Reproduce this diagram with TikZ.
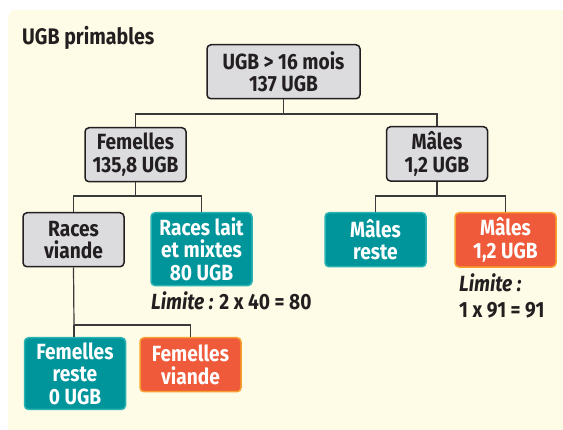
\documentclass[tikz,border=0pt]{standalone}
\usepackage{fontspec}
\setmainfont{Fira Sans}[FakeStretch=0.87]
\definecolor{bgy}{HTML}{FEFCE6}
\definecolor{ink}{HTML}{231F20}
\definecolor{grayfill}{HTML}{DCDCDF}
\definecolor{tealfill}{HTML}{00959A}
\definecolor{tealedge}{HTML}{2AB3B5}
\definecolor{orfill}{HTML}{EF5A3A}
\definecolor{oredge}{HTML}{F7A02F}
\definecolor{wire}{HTML}{3A3A3A}
\tikzset{
  box/.style={rounded corners=4pt, line width=1.5pt, minimum width=101pt, minimum height=54pt,
    inner xsep=2pt, inner ysep=5pt, align=center, font=\fontsize{22}{22.3}\selectfont\bfseries},
  graybox/.style={box, draw=ink, fill=grayfill, text=ink},
  tealbox/.style={box, draw=tealedge, fill=tealfill, text=white},
  orbox/.style={box, draw=oredge, fill=orfill, text=white},
  wirestyle/.style={draw=wire, line width=1.2pt},
  note/.style={text=ink, font=\fontsize{22}{22.3}\selectfont\bfseries, inner sep=0pt, anchor=west}
}
\begin{document}
\begin{tikzpicture}[x=1pt, y=-1pt]
\useasboundingbox (0,0) rectangle (563,430);
\fill[bgy, rounded corners=8pt] (8,10) rectangle (580,445);
\node[note, font=\fontsize{22.5}{24}\selectfont\bfseries] (title) at (22,38) {UGB primables};

\node[graybox, minimum width=153pt, anchor=north] (root) at (283.5,44) {UGB > 16 mois\\137 UGB};
\node[graybox, anchor=north] (fem) at (135.5,127) {Femelles\\135,8 UGB};
\node[graybox, anchor=north] (mal) at (437,126) {Mâles\\1,2 UGB};
\node[graybox, anchor=north] (rv) at (73.5,212) {Races\\viande};
\node[tealbox, anchor=north] (rl) at (201.5,212) {Races lait\\et mixtes\\80 UGB};
\node[tealbox, anchor=north] (mr) at (375.5,212) {Mâles\\reste};
\node[orbox, anchor=north] (mo) at (505.5,212) {Mâles\\1,2 UGB};
\node[tealbox, anchor=north] (fr) at (75,337) {Femelles\\reste\\0 UGB};
\node[orbox, anchor=north] (fv) at (190.5,337) {Femelles\\viande};

\node[note] (lim1) at (151,301) {\textit{Limite :} 2 x 40 = 80};
\node[note] (lim2a) at (459,283) {\textit{Limite :}};
\node[note] (lim2b) at (459,310) {1 x 91 = 91};

\coordinate (j1) at (283.5,114);
\coordinate (j2) at (135.5,196);
\coordinate (j3) at (437,196);
\coordinate (j4) at (74,325);

\draw[wirestyle] (root.south) -- (j1);
\draw[wirestyle] (fem.north) |- (j1) -| (mal.north);
\draw[wirestyle] (fem.south) -- (j2);
\draw[wirestyle] (rv.north) |- (j2) -| (rl.north);
\draw[wirestyle] (mal.south) -- (j3);
\draw[wirestyle] (mr.north) |- (j3) -| (mo.north);
\draw[wirestyle] (rv.south) -- (j4);
\draw[wirestyle] (j4) -- (fr.north -| j4);
\draw[wirestyle] (j4) -| (fv.north);
\end{tikzpicture}
\end{document}
